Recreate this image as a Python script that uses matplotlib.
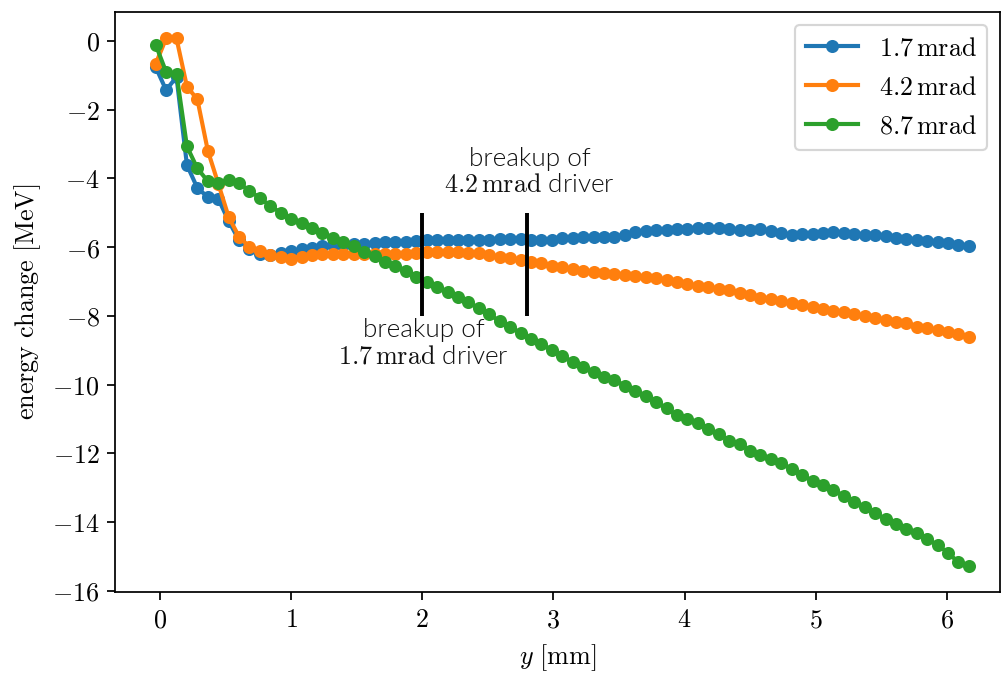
import numpy as np
import matplotlib
matplotlib.use("Agg")
import matplotlib.pyplot as plt
from matplotlib.ticker import FuncFormatter

# ---- data ----
y_pos = np.linspace(-0.033, 6.168, 79)  # mm, uniform sampling grid

e_17 = [-0.76, -1.43, -1.05, -3.61, -4.28, -4.54, -4.59, -5.24, -5.80, -6.04,
        -6.19, -6.24, -6.16, -6.11, -6.06, -6.01, -5.96, -5.94, -5.93, -5.92,
        -5.92, -5.87, -5.85, -5.85, -5.85, -5.82, -5.80, -5.80, -5.80, -5.80,
        -5.80, -5.80, -5.79, -5.76, -5.76, -5.76, -5.78, -5.78, -5.78, -5.74,
        -5.72, -5.71, -5.71, -5.69, -5.69, -5.64, -5.57, -5.53, -5.50, -5.51,
        -5.48, -5.47, -5.45, -5.43, -5.45, -5.47, -5.49, -5.50, -5.48, -5.52,
        -5.60, -5.64, -5.63, -5.61, -5.58, -5.57, -5.59, -5.63, -5.64, -5.65,
        -5.67, -5.72, -5.76, -5.78, -5.81, -5.86, -5.89, -5.95, -5.98]

e_42 = [-0.67, 0.07, 0.07, -1.33, -1.70, -3.19, -4.15, -5.12, -5.70, -5.99,
        -6.12, -6.24, -6.30, -6.33, -6.28, -6.24, -6.21, -6.19, -6.20, -6.20,
        -6.21, -6.21, -6.21, -6.21, -6.20, -6.18, -6.15, -6.15, -6.15, -6.15,
        -6.16, -6.18, -6.22, -6.28, -6.32, -6.36, -6.42, -6.47, -6.54, -6.58,
        -6.63, -6.68, -6.71, -6.74, -6.78, -6.81, -6.84, -6.87, -6.90, -6.95,
        -7.01, -7.07, -7.12, -7.17, -7.21, -7.25, -7.32, -7.40, -7.47, -7.52,
        -7.56, -7.63, -7.68, -7.73, -7.79, -7.85, -7.90, -7.94, -8.00, -8.05,
        -8.12, -8.17, -8.21, -8.31, -8.36, -8.41, -8.46, -8.52, -8.60]

e_87 = [-0.11, -0.90, -0.96, -3.07, -3.71, -4.08, -4.13, -4.04, -4.14, -4.36,
        -4.57, -4.80, -5.00, -5.17, -5.30, -5.44, -5.59, -5.72, -5.84, -5.98,
        -6.13, -6.27, -6.42, -6.54, -6.69, -6.86, -7.02, -7.17, -7.31, -7.46,
        -7.60, -7.78, -7.95, -8.16, -8.33, -8.49, -8.67, -8.82, -8.99, -9.18,
        -9.33, -9.49, -9.62, -9.78, -9.86, -10.03, -10.18, -10.33, -10.51, -10.69,
        -10.88, -11.00, -11.12, -11.29, -11.44, -11.63, -11.72, -11.92, -12.04, -12.16,
        -12.27, -12.46, -12.64, -12.79, -12.92, -13.06, -13.24, -13.40, -13.57, -13.74,
        -13.91, -14.06, -14.20, -14.32, -14.50, -14.66, -14.89, -15.17, -15.27]

series_labels = [r'$1.7\,\mathrm{mrad}$', r'$4.2\,\mathrm{mrad}$', r'$8.7\,\mathrm{mrad}$']
breakup_x = [2.0, 2.8]
breakup_ymin, breakup_ymax = -8.0, -5.0
annot_texts = ["breakup of\n" + r"$4.2\,\mathrm{mrad}$" + " driver",
               "breakup of\n" + r"$1.7\,\mathrm{mrad}$" + " driver"]
annot_pos = [(2.82, -3.82), (2.01, -8.80)]

# ---- style ----
plt.rcParams['mathtext.fontset'] = 'cm'
plt.rcParams['font.family'] = ['DejaVu Sans']

DPI = 156.5625
fig = plt.figure(figsize=(1002 / DPI, 674 / DPI), dpi=DPI)
ax = fig.add_axes([115 / 1002, 1 - 592 / 674, (1000 - 115) / 1002, (592 - 12) / 674])

for vals, lab, c in zip([e_17, e_42, e_87], series_labels, ['C0', 'C1', 'C2']):
    ax.plot(y_pos, vals, '-o', color=c, lw=1.9, ms=5, label=lab)

ax.vlines(breakup_x, breakup_ymin, breakup_ymax, colors='k', lw=1.8)

for t, (tx, ty) in zip(annot_texts, annot_pos):
    ax.text(tx, ty, t, ha='center', va='center', fontsize=12,
            family=['Lato', 'DejaVu Sans'], fontweight=300, color='#111111',
            linespacing=1.1)

ax.set_xlim(-0.343, 6.405)
ax.set_ylim(-16.03, 0.84)

ax.xaxis.set_major_formatter(FuncFormatter(lambda v, p: r'$%g$' % v))
ax.yaxis.set_major_formatter(FuncFormatter(lambda v, p: r'$%g$' % v))
ax.set_yticks(np.arange(-16, 1, 2))
ax.set_xticks(np.arange(0, 7, 1))
ax.tick_params(labelsize=12)

ax.set_xlabel(r'$y\ [\mathrm{mm}]$', fontsize=12)
ax.set_ylabel(r'$\mathrm{energy\ change\ [MeV]}$', fontsize=12)

ax.legend(loc='upper right', fontsize=12)

fig.savefig('out.png', dpi=DPI)
